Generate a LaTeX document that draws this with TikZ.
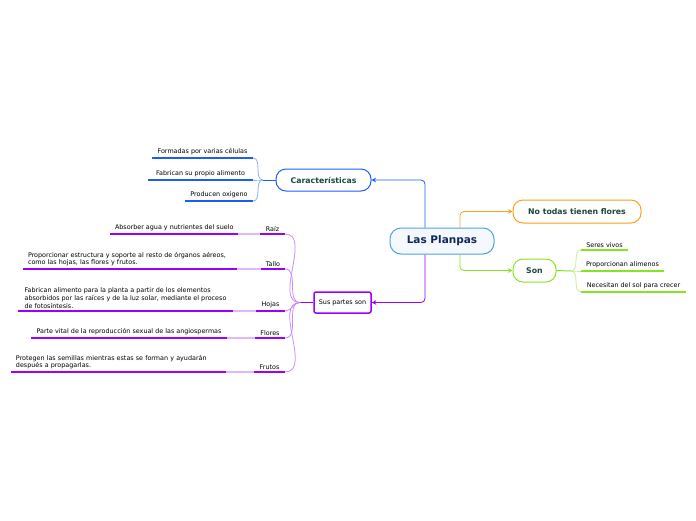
\documentclass[tikz,border=0pt]{standalone}
\usepackage{fontspec}
\setmainfont{DejaVu Sans}
\usepackage{tikz}
\usepackage{xcolor}
\usetikzlibrary{arrows.meta}

\definecolor{carblue}{HTML}{1A5EF5}
\definecolor{carlight}{HTML}{8DB0FA}
\definecolor{mainblue}{HTML}{4BA3DF}
\definecolor{mainfill}{HTML}{F5F9FD}
\definecolor{mainnavy}{HTML}{0E2A5C}
\definecolor{nforange}{HTML}{F7A21B}
\definecolor{songreen}{HTML}{86E51E}
\definecolor{sonlight}{HTML}{C2F08C}
\definecolor{partpurple}{HTML}{9A00FF}
\definecolor{partlight}{HTML}{C98CFF}
\definecolor{partfaint}{HTML}{DDB8FF}
\definecolor{topictext}{HTML}{184A3C}

\tikzset{
  topic/.style={draw, line width=1pt, rounded corners=10pt, inner sep=0pt, fill=white,
    font=\fontsize{7.8}{9}\selectfont\bfseries, text=topictext},
  leaf/.style={inner xsep=5pt, inner ysep=2.8pt, outer sep=0pt, font=\fontsize{6.4}{7.8}\selectfont},
  arr/.style={line width=0.8pt, rounded corners=4pt, -{Stealth[length=4.5pt,width=4.5pt]}},
}

\begin{document}
\begin{tikzpicture}[x=1pt,y=-1pt]
\useasboundingbox (0,0) rectangle (696,520);

\node[topic, draw=mainblue, fill=mainfill, text=mainnavy, minimum width=104pt, minimum height=26pt,
  rounded corners=11pt, font=\fontsize{10.5}{12}\selectfont\bfseries] (main) at (442,241) {Las Planpas};
\node[topic, draw=carblue, minimum width=95pt, minimum height=22pt] (car) at (323.5,180) {Características};
\node[topic, draw=nforange, minimum width=128pt, minimum height=23pt] (nf) at (577,211.5) {No todas tienen flores};
\node[topic, draw=songreen, minimum width=43pt, minimum height=23pt] (son) at (534.5,270.5) {Son};
\node[draw=partpurple, line width=1.5pt, rounded corners=2pt, inner sep=0pt, minimum width=57pt,
  minimum height=21pt, font=\fontsize{6.4}{7.5}\selectfont] (parts) at (342.5,302.5) {Sus partes son};

\draw[arr, carblue] ([xshift=-17pt]main.north) |- (car.east);
\draw[arr, nforange] ([xshift=18pt]main.north) |- (nf.west);
\draw[arr, songreen] ([xshift=18pt]main.south) |- (son.west);
\draw[arr, partpurple] ([xshift=-17pt]main.south) |- (parts.east);

\node[leaf, anchor=south west, minimum width=101pt] (f1) at (152,158) {Formadas por varias células};
\node[leaf, anchor=south west, minimum width=105pt] (f2) at (148,180) {Fabrican su propio alimento};
\node[leaf, anchor=south west, minimum width=68pt] (f3) at (185,201) {Producen oxigeno};
\draw[carblue, line width=1.2pt] (f1.south west) -- (f1.south east);
\draw[carblue, line width=1.2pt] (f2.south west) -- (f2.south east);
\draw[carblue, line width=1.2pt] (f3.south west) -- (f3.south east);
\coordinate (chub) at (263,180);
\draw[carblue, line width=1pt] (car.west) -- (chub);
\draw[carlight, line width=0.8pt] (chub) to[out=180,in=0] (f1.south east);
\draw[carlight, line width=0.8pt] (chub) to[out=180,in=0] (f2.south east);
\draw[carlight, line width=0.8pt] (chub) to[out=180,in=0] (f3.south east);

\node[leaf, anchor=south west, minimum width=47pt] (s1) at (581,250) {Seres vivos};
\node[leaf, anchor=south west, minimum width=83pt] (s2) at (581,271) {Proporcionan alimenos};
\node[leaf, anchor=south west, minimum width=105pt] (s3) at (581,292) {Necesitan del sol para crecer};
\draw[songreen, line width=1.2pt] (s1.south west) -- (s1.south east);
\draw[songreen, line width=1.2pt] (s2.south west) -- (s2.south east);
\draw[songreen, line width=1.2pt] (s3.south west) -- (s3.south east);
\coordinate (shub) at (571,271);
\draw[songreen, line width=1pt] (son.east) -- (shub);
\draw[sonlight, line width=0.8pt] (shub) to[out=0,in=180] (s1.south west);
\draw[sonlight, line width=0.8pt] (shub) to[out=0,in=180] (s2.south west);
\draw[sonlight, line width=0.8pt] (shub) to[out=0,in=180] (s3.south west);

\node[leaf, anchor=south east, minimum width=25pt] (raiz) at (285,234) {Raíz};
\node[leaf, anchor=south east, minimum width=23pt] (tallo) at (285,269) {Tallo};
\node[leaf, anchor=south east, minimum width=29pt] (hojas) at (285,311) {Hojas};
\node[leaf, anchor=south east, minimum width=30pt] (flores) at (285,338) {Flores};
\node[leaf, anchor=south east, minimum width=31pt] (frutos) at (285,372) {Frutos};
\node[leaf, anchor=south west, minimum width=128pt] (d1) at (110,234) {Absorber agua y nutrientes del suelo};
\node[leaf, anchor=south west, text width=204pt, align=left] (d2) at (23,269)
  {Proporcionar estructura y soporte al resto de órganos aéreos,\\como las hojas, las flores y frutos.};
\node[leaf, anchor=south west, minimum width=215pt, align=left] (d3) at (18,311)
  {Fabrican alimento para la planta a partir de los elementos\\absorbidos por las raíces y de la luz solar, mediante el proceso\\de fotosíntesis.};
\node[leaf, anchor=south west, minimum width=196pt] (d4) at (31,338) {Parte vital de la reproducción sexual de las angiospermas};
\node[leaf, anchor=south west, text width=205pt, align=left] (d5) at (11,372)
  {Protegen las semillas mientras estas se forman y ayudarán\\después a propagarlas.};

\draw[partfaint, line width=1.2pt] (d1.south east) -- (raiz.south west);
\draw[partfaint, line width=1.2pt] (d2.south east) -- (tallo.south west);
\draw[partfaint, line width=1.2pt] (d3.south east) -- (hojas.south west);
\draw[partfaint, line width=1.2pt] (d4.south east) -- (flores.south west);
\draw[partfaint, line width=1.2pt] (d5.south east) -- (frutos.south west);
\draw[partpurple, line width=1.2pt] (raiz.south west) -- (raiz.south east);
\draw[partpurple, line width=1.2pt] (tallo.south west) -- (tallo.south east);
\draw[partpurple, line width=1.2pt] (hojas.south west) -- (hojas.south east);
\draw[partpurple, line width=1.2pt] (flores.south west) -- (flores.south east);
\draw[partpurple, line width=1.2pt] (frutos.south west) -- (frutos.south east);
\draw[partpurple, line width=1.2pt] (d1.south west) -- (d1.south east);
\draw[partpurple, line width=1.2pt] (d2.south west) -- (d2.south east);
\draw[partpurple, line width=1.2pt] (d3.south west) -- (d3.south east);
\draw[partpurple, line width=1.2pt] (d4.south west) -- (d4.south east);
\draw[partpurple, line width=1.2pt] (d5.south west) -- (d5.south east);
\coordinate (phub) at (300,302.5);
\draw[partpurple, line width=1.2pt] (parts.west) -- (phub);
\draw[partlight, line width=0.8pt] (phub) to[out=180,in=0] (raiz.south east);
\draw[partlight, line width=0.8pt] (phub) to[out=180,in=0] (tallo.south east);
\draw[partlight, line width=0.8pt] (phub) to[out=180,in=0] (hojas.south east);
\draw[partlight, line width=0.8pt] (phub) to[out=180,in=0] (flores.south east);
\draw[partlight, line width=0.8pt] (phub) to[out=180,in=0] (frutos.south east);
\end{tikzpicture}
\end{document}
